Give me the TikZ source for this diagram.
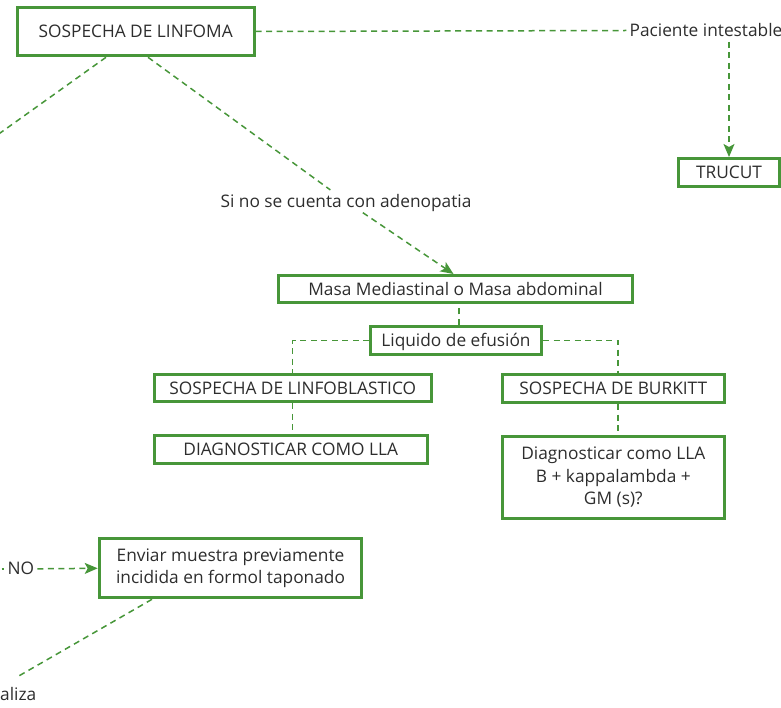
\documentclass[tikz,border=0pt]{standalone}
\usepackage{fontspec}
\setmainfont{Open Sans}
\usetikzlibrary{arrows.meta}
\definecolor{gr}{RGB}{71,150,57}
\definecolor{tx}{RGB}{45,45,45}
\begin{document}
\begin{tikzpicture}[x=1pt,y=-1pt,
  font=\fontsize{17.3}{22.5}\selectfont, text=tx,
  box/.style={draw=gr, line width=3pt, inner sep=0pt, text height=12.35pt, text depth=0pt, align=center},
  mbox/.style={draw=gr, line width=3pt, inner sep=0pt, align=center},
  lbl/.style={inner xsep=3pt, inner ysep=5pt, text height=12.35pt, text depth=0pt},
  conn/.style={draw=gr, line width=1.5pt, dash pattern=on 6pt off 4.5pt},
  arr/.style={conn, -{Stealth[length=13pt,width=11pt,inset=3pt]}}
]
\useasboundingbox (0,0) rectangle (781,708);
\clip (0,0) rectangle (781,708);

\node[box, minimum width=237pt, minimum height=48.6pt] (top) at (135.7,31.5) {SOSPECHA DE LINFOMA};
\node[lbl] (pac) at (706,30.5) {Paciente intestable};
\node[box, minimum width=101pt, minimum height=28pt] (tru) at (729,172.5) {TRUCUT};
\node[lbl] (sino) at (346,201.3) {Si no se cuenta con adenopatia};
\node[box, minimum width=354pt, minimum height=27pt] (masa) at (455.5,289) {Masa Mediastinal o Masa abdominal};
\node[box, minimum width=171pt, minimum height=28pt] (liq) at (456,340.5) {Liquido de efusión};
\node[box, minimum width=277pt, minimum height=27pt] (linfo) at (292.7,388.3) {SOSPECHA DE LINFOBLASTICO};
\node[box, minimum width=273pt, minimum height=27.7pt] (diag) at (290.7,449.3) {DIAGNOSTICAR COMO LLA};
\node[box, minimum width=222.3pt, minimum height=27.7pt] (burk) at (613.3,388.7) {SOSPECHA DE BURKITT};
\node[mbox, minimum width=222.3pt, minimum height=82pt] (llab) at (613.3,477.5) {Diagnosticar como LLA\\B + kappalambda +\\GM (s)?};
\node[mbox, minimum width=262.6pt, minimum height=59pt] (env) at (230.5,568.3) {Enviar muestra previamente\\incidida en formol taponado};
\node[lbl] (no) at (20.8,568.8) {NO};
\node[lbl, anchor=west, inner xsep=0pt] (alz) at (0,694) {aliza};
\coordinate (offL) at (-40,161.7);
\coordinate (offNO) at (-30,568.8);
\coordinate (alzEnd) at (17,677);

\draw[conn] (top.east) -- (pac.west);
\draw[arr] (tru.north |- pac.south) -- (tru.north);
\draw[conn] ([xshift=-29.7pt]top.south) -- (offL);
\draw[conn] ([xshift=12.3pt]top.south) -- (sino);
\draw[arr] (sino) -- ([xshift=-2pt]masa.north);
\draw[conn] ([xshift=3pt]liq.north) -- ([xshift=3pt]liq.north |- masa.south);
\draw[conn] (liq.west) -| (linfo.north);
\draw[conn] (liq.east) -| ([xshift=4.7pt]burk.north);
\draw[conn] (linfo.south) -- (linfo.south |- diag.north);
\draw[conn] ([xshift=4.7pt]burk.south) -- ([xshift=4.7pt]burk.south |- llab.north);
\draw[conn] (offNO) -- (no.west);
\draw[arr] (no.east) -- (env.west);
\draw[conn] ([xshift=-78.5pt]env.south) -- (alzEnd);
\end{tikzpicture}
\end{document}
